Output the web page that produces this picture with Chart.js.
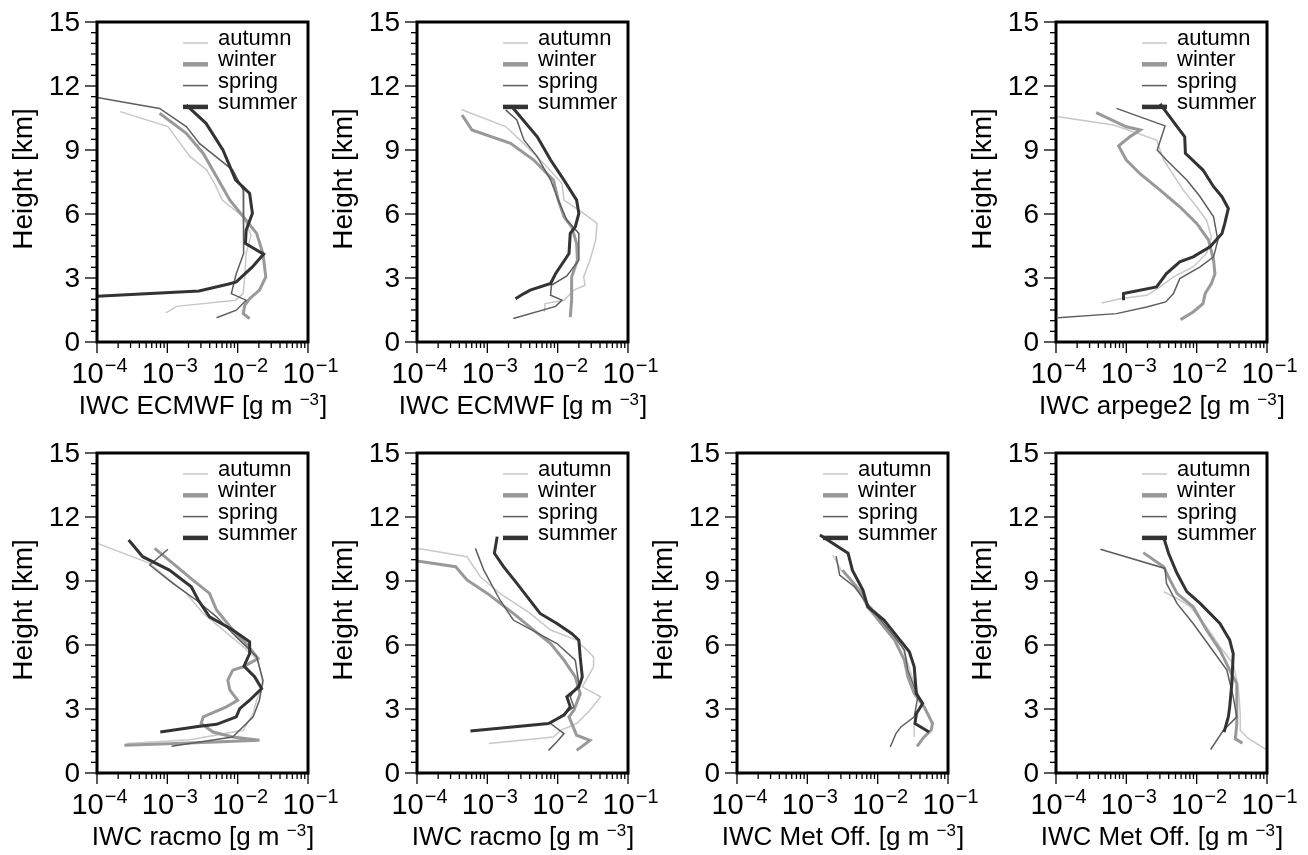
<!DOCTYPE html>
<html>
<head>
<meta charset="utf-8">
<script src="https://cdn.jsdelivr.net/npm/chart.js@4.4.0/dist/chart.umd.min.js"></script>
<style>
  html, body { margin: 0; padding: 0; background: #fff; }
  #wrap { position: relative; width: 1308px; height: 855px; overflow: hidden; }
  #wrap canvas { position: absolute; }
</style>
</head>
<body>
<div id="wrap"></div>
<script>
// axis setup
const seasons = ["autumn", "winter", "spring", "summer"];
const yTicks = [0, 3, 6, 9, 12, 15];
const xTickExps = [-4, -3, -2, -1];
const xMin = 1e-4, xMax = 1e-1;
const yMin = 0, yMax = 15;
const panelTitles = ["IWC ECMWF", "IWC ECMWF", "IWC arpege2", "IWC racmo", "IWC racmo", "IWC Met Off.", "IWC Met Off."];

// profiles: [IWC g m-3, height km]
const ecmwfA_autumn = [[2.14e-4,10.8],[1.02e-3,10.1],[2.09e-3,8.7],[3.63e-3,8.06],[4.79e-3,7.36],[6.03e-3,6.65],[1.2e-2,5.87],[1.55e-2,5.0],[1.32e-2,4.15],[1.26e-2,3.05],[1.2e-2,2.27],[9.33e-3,1.96],[1.35e-3,1.67],[9.55e-4,1.36]];
const ecmwfA_winter = [[7.76e-4,10.72],[1.86e-3,9.78],[3.24e-3,8.84],[5.01e-3,7.75],[7.76e-3,6.65],[1.32e-2,5.71],[1.86e-2,5.09],[2.29e-2,4.15],[2.51e-2,3.05],[2.04e-2,2.43],[1.48e-2,2.03],[1.26e-2,1.72],[1.2e-2,1.33],[1.48e-2,1.1]];
const ecmwfA_spring = [[1.0e-4,11.46],[7.76e-4,10.95],[1.86e-3,10.1],[2.88e-3,9.3],[8.51e-3,8.06],[1.2e-2,7.12],[1.2e-2,5.87],[1.23e-2,4.15],[9.55e-3,3.2],[8.13e-3,2.27],[1.32e-2,1.96],[9.55e-3,1.49],[5.01e-3,1.14]];
const ecmwfA_summer = [[1.86e-3,11.1],[3.55e-3,10.25],[6.17e-3,9.0],[9.33e-3,7.6],[1.48e-2,6.96],[1.62e-2,6.03],[1.32e-2,5.24],[1.29e-2,4.62],[2.34e-2,4.12],[1.62e-2,3.52],[9.55e-3,2.82],[7.24e-3,2.71],[2.82e-3,2.39],[1.0e-4,2.14]];

const ecmwfB_autumn = [[4.27e-4,10.9],[1.82e-3,10.1],[3.31e-3,9.3],[7.08e-3,8.2],[1.15e-2,7.43],[1.23e-2,6.65],[2.34e-2,6.03],[3.63e-2,5.56],[3.47e-2,4.77],[2.88e-2,3.83],[2.34e-2,3.05],[2.45e-2,2.66],[1.7e-2,2.43],[1.23e-2,1.96],[6.61e-3,1.8],[6.46e-3,1.41]];
const ecmwfB_winter = [[4.37e-4,10.64],[6.03e-4,9.94],[2.14e-3,9.31],[4.57e-3,8.53],[8.71e-3,7.59],[1.02e-2,6.65],[1.23e-2,5.87],[1.58e-2,5.4],[1.86e-2,4.62],[1.91e-2,3.83],[1.58e-2,3.05],[1.58e-2,1.96],[1.51e-2,1.17]];
const ecmwfB_spring = [[1.82e-3,10.88],[2.63e-3,10.41],[3.31e-3,9.47],[5.13e-3,8.69],[7.94e-3,7.59],[1.02e-2,6.65],[1.35e-2,5.71],[2.0e-2,5.09],[2.0e-2,3.83],[1.35e-2,3.1],[8.13e-3,2.66],[7.94e-3,2.19],[1.15e-2,1.96],[9.33e-3,1.67],[2.34e-3,1.1]];
const ecmwfB_summer = [[2.24e-3,11.03],[5.13e-3,9.62],[7.94e-3,8.53],[1.23e-2,7.59],[1.86e-2,6.65],[2.0e-2,6.03],[1.78e-2,5.4],[1.51e-2,5.09],[1.45e-2,4.15],[9.33e-3,3.2],[7.94e-3,2.74],[4.07e-3,2.43],[3.31e-3,2.27],[2.51e-3,2.03]];

const arpege_autumn = [[1.07e-4,10.56],[6.61e-4,10.17],[2.69e-3,9.47],[3.39e-3,8.53],[6.46e-3,7.12],[1.0e-2,6.34],[1.38e-2,5.71],[1.62e-2,4.93],[1.38e-2,4.15],[8.91e-3,3.52],[4.68e-3,3.05],[3.02e-3,2.58],[1.95e-3,2.19],[8.13e-4,2.03],[4.47e-4,1.83]];
const arpege_winter = [[3.72e-4,10.75],[1.0e-3,10.09],[1.58e-3,9.94],[1.12e-3,9.62],[7.76e-4,9.19],[1.0e-3,8.53],[1.55e-3,7.9],[3.02e-3,7.12],[5.75e-3,6.34],[1.0e-2,5.56],[1.48e-2,4.77],[1.74e-2,3.83],[1.82e-2,3.2],[1.62e-2,2.74],[1.32e-2,2.27],[1.23e-2,1.8],[8.91e-3,1.41],[5.89e-3,1.05]];
const arpege_spring = [[7.24e-4,10.95],[3.55e-3,10.13],[2.75e-3,9.0],[3.72e-3,8.53],[7.24e-3,7.59],[1.12e-2,6.81],[1.74e-2,5.87],[2.0e-2,4.77],[1.74e-2,3.99],[1.12e-2,3.52],[5.75e-3,2.97],[4.68e-3,2.27],[3.63e-3,1.88],[1.95e-3,1.64],[7.24e-4,1.33],[1.07e-4,1.14]];
const arpege_summer = [[3.02e-3,11.16],[6.76e-3,9.62],[6.92e-3,8.84],[1.23e-2,8.06],[1.74e-2,7.28],[2.29e-2,6.81],[2.82e-2,6.26],[2.51e-2,5.56],[2.29e-2,5.09],[1.55e-2,4.46],[8.91e-3,3.99],[5.75e-3,3.76],[3.72e-3,3.21],[2.69e-3,2.58],[9.12e-4,2.27],[9.12e-4,1.96]];

const racmoA_autumn = [[1.0e-4,10.77],[5.62e-4,9.83],[1.07e-3,9.05],[1.86e-3,8.42],[3.24e-3,7.48],[1.2e-2,5.92],[1.95e-2,5.29],[2.29e-2,4.19],[1.86e-2,3.41],[1.66e-2,2.79],[1.2e-2,2.0],[2.09e-3,1.56],[2.63e-4,1.38]];
const racmoA_winter = [[6.61e-4,10.53],[1.2e-3,9.83],[2.29e-3,9.05],[3.98e-3,8.42],[5.01e-3,7.64],[8.51e-3,6.7],[1.32e-2,6.07],[1.95e-2,5.37],[1.2e-2,4.98],[8.51e-3,4.82],[7.24e-3,4.35],[7.76e-3,3.88],[1.0e-2,3.41],[6.92e-3,3.1],[3.24e-3,2.63],[3.02e-3,2.32],[4.47e-3,1.92],[8.51e-3,1.69],[2.04e-2,1.53],[2.09e-3,1.41],[2.45e-4,1.3]];
const racmoA_spring = [[1.02e-3,10.49],[5.62e-4,9.75],[1.2e-3,8.89],[2.57e-3,8.11],[5.01e-3,7.32],[9.55e-3,6.38],[1.86e-2,5.45],[2.29e-2,4.35],[2.04e-2,3.41],[1.66e-2,2.63],[8.51e-3,1.69],[1.15e-3,1.25]];
const racmoA_summer = [[2.82e-4,10.92],[4.47e-4,10.14],[1.07e-3,9.51],[2.19e-3,8.73],[2.75e-3,8.11],[3.98e-3,7.32],[8.51e-3,6.7],[1.48e-2,6.15],[1.48e-2,5.6],[1.23e-2,5.01],[1.74e-2,4.51],[2.19e-2,3.96],[1.48e-2,3.41],[1.07e-2,3.02],[9.55e-3,2.63],[5.01e-3,2.28],[2.88e-3,2.19],[7.94e-4,1.92]];

const racmoB_autumn = [[1.0e-4,10.53],[5.13e-4,10.14],[7.94e-4,9.2],[1.51e-3,8.42],[4.07e-3,7.48],[7.94e-3,6.7],[1.86e-2,6.23],[3.24e-2,5.45],[3.24e-2,4.98],[2.24e-2,4.04],[4.07e-2,3.57],[2.88e-2,2.94],[1.86e-2,2.32],[1.1e-2,2.0],[8.71e-3,1.69],[1.05e-3,1.38]];
const racmoB_winter = [[1.0e-4,9.94],[3.55e-4,9.67],[5.13e-4,9.05],[1.0e-3,8.42],[2.34e-3,7.48],[4.57e-3,6.7],[7.94e-3,6.07],[1.23e-2,5.29],[1.78e-2,4.51],[2.09e-2,3.72],[1.7e-2,2.94],[1.45e-2,2.63],[1.86e-2,1.77],[2.88e-2,1.53],[1.86e-2,1.06]];
const racmoB_spring = [[6.76e-4,10.53],[8.91e-4,9.51],[1.51e-3,8.11],[2.34e-3,7.17],[9.77e-3,6.07],[1.78e-2,5.29],[2.0e-2,4.19],[1.51e-2,3.57],[1.7e-2,3.1],[7.94e-3,2.32],[1.23e-2,1.85],[9.77e-3,1.46],[7.41e-3,1.06]];
const racmoB_summer = [[1.38e-3,11.08],[1.26e-3,10.3],[1.7e-3,9.67],[2.63e-3,8.89],[5.62e-3,7.48],[9.77e-3,7.01],[1.58e-2,6.54],[2.0e-2,6.23],[2.09e-2,5.45],[2.24e-2,4.51],[2.0e-2,4.04],[1.35e-2,3.57],[1.51e-2,3.1],[1.23e-2,2.71],[7.41e-3,2.32],[5.75e-4,1.97]];

const metoffA_autumn = [[2.29e-3,10.22],[3.02e-3,9.51],[5.5e-3,8.58],[7.24e-3,7.95],[1.23e-2,7.17],[2.14e-2,6.07],[2.69e-2,5.13],[3.31e-2,4.19],[4.17e-2,3.26],[3.31e-2,2.32],[3.31e-2,1.69]];
const metoffA_winter = [[3.16e-3,9.51],[5.5e-3,8.58],[7.24e-3,7.79],[1.74e-2,6.23],[2.4e-2,5.29],[2.69e-2,4.51],[3.31e-2,3.72],[4.57e-2,3.1],[6.03e-2,2.32],[5.75e-2,2.0],[4.57e-2,1.69],[3.63e-2,1.25]];
const metoffA_spring = [[2.57e-3,10.17],[2.88e-3,9.28],[4.68e-3,8.73],[6.46e-3,8.11],[1.74e-2,6.38],[2.4e-2,5.76],[2.69e-2,4.82],[3.72e-2,3.57],[3.31e-2,2.63],[2.14e-2,2.16],[1.82e-2,1.85],[1.51e-2,1.22]];
const metoffA_summer = [[1.51e-3,11.16],[3.8e-3,10.3],[4.37e-3,9.51],[6.17e-3,8.58],[7.24e-3,7.79],[1.23e-2,7.17],[1.91e-2,6.38],[2.82e-2,5.68],[3.31e-2,4.98],[3.55e-2,3.72],[4.37e-2,3.26],[3.55e-2,2.79],[3.39e-2,2.32],[5.37e-2,1.92]];

const metoffB_autumn = [[3.39e-3,8.5],[5.75e-3,8.11],[8.13e-3,7.79],[1.38e-2,6.85],[2.14e-2,5.92],[3.31e-2,5.13],[3.89e-2,4.04],[4.17e-2,2.79],[4.17e-2,2.0],[5.37e-2,1.63],[1.0e-1,1.07]];
const metoffB_winter = [[1.74e-3,10.33],[3.39e-3,9.67],[4.17e-3,9.05],[5.25e-3,8.42],[8.91e-3,7.79],[1.38e-2,6.7],[2.14e-2,5.76],[2.95e-2,4.82],[3.72e-2,4.19],[3.72e-2,3.26],[3.72e-2,2.3],[3.55e-2,1.6],[4.47e-2,1.4]];
const metoffB_spring = [[4.27e-4,10.49],[3.55e-3,9.59],[3.72e-3,8.89],[5.25e-3,7.95],[8.91e-3,7.01],[1.55e-2,5.92],[2.69e-2,4.82],[3.31e-2,3.57],[3.72e-2,2.63],[2.4e-2,2.0],[1.58e-2,1.1]];
const metoffB_summer = [[3.39e-3,11.05],[3.98e-3,10.3],[5.25e-3,9.36],[7.24e-3,8.5],[1.12e-2,7.95],[2.14e-2,7.01],[2.95e-2,6.23],[3.31e-2,5.6],[3.16e-2,4.19],[2.95e-2,3.1],[2.82e-2,2.63],[2.45e-2,1.92]];

const panelSeries = [
  [ecmwfA_autumn, ecmwfA_winter, ecmwfA_spring, ecmwfA_summer],
  [ecmwfB_autumn, ecmwfB_winter, ecmwfB_spring, ecmwfB_summer],
  [arpege_autumn, arpege_winter, arpege_spring, arpege_summer],
  [racmoA_autumn, racmoA_winter, racmoA_spring, racmoA_summer],
  [racmoB_autumn, racmoB_winter, racmoB_spring, racmoB_summer],
  [metoffA_autumn, metoffA_winter, metoffA_spring, metoffA_summer],
  [metoffB_autumn, metoffB_winter, metoffB_spring, metoffB_summer]
];

// look
const seasonColor = ["#c8c8c8", "#999999", "#5e5e5e", "#333333"];
const seasonWidth = [1.5, 3, 1.5, 3];
const legendWidth = [1.5, 4.5, 1.5, 4.5];
const slots = [[0, 0], [320, 0], [959, 0], [0, 431], [320, 431], [640, 431], [959, 431]];
const FONT = "'Liberation Sans', Arial, sans-serif";

function seg(ctx, x1, y1, x2, y2) {
  ctx.beginPath();
  ctx.moveTo(x1, y1);
  ctx.lineTo(x2, y2);
  ctx.stroke();
}

const framePlugin = {
  id: "frame",
  afterDraw(chart) {
    const ctx = chart.ctx;
    const a = chart.chartArea;
    const xs = chart.scales.x, ys = chart.scales.y;
    ctx.save();
    ctx.strokeStyle = "#000";
    ctx.fillStyle = "#000";

    // y ticks (major every 3 km, minor every 0.5 km)
    ctx.lineWidth = 1.3;
    for (let v = yMin; v <= yMax; v += 0.5) {
      const py = ys.getPixelForValue(v);
      const len = (v % 3 === 0) ? 12 : 6;
      seg(ctx, a.left - len, py, a.left, py);
    }
    // x ticks (decades + minor 2..9)
    for (const e of xTickExps) {
      for (let m = 1; m <= 9; m++) {
        const v = m * Math.pow(10, e);
        if (v > xMax * 1.001) break;
        const px = xs.getPixelForValue(v);
        seg(ctx, px, a.bottom, px, a.bottom + (m === 1 ? 11 : 6));
      }
    }
    // frame
    ctx.lineWidth = 3;
    ctx.strokeRect(a.left, a.top, a.right - a.left, a.bottom - a.top);

    // y tick labels
    ctx.font = "28px " + FONT;
    ctx.textAlign = "right";
    ctx.textBaseline = "middle";
    yTicks.forEach(v => ctx.fillText(String(v), a.left - 17, ys.getPixelForValue(v) + 1));

    // x tick labels 10^n
    ctx.textAlign = "left";
    ctx.textBaseline = "alphabetic";
    xTickExps.forEach(e => {
      const px = xs.getPixelForValue(Math.pow(10, e));
      ctx.font = "29px " + FONT;
      const wBase = ctx.measureText("10").width;
      ctx.font = "20px " + FONT;
      const sup = "\u2212" + Math.abs(e);
      const wSup = ctx.measureText(sup).width;
      const x0 = px - (wBase + wSup) / 2 + 2;
      ctx.font = "29px " + FONT;
      ctx.fillText("10", x0, a.bottom + 41);
      ctx.font = "20px " + FONT;
      ctx.fillText(sup, x0 + wBase + 1, a.bottom + 30);
    });

    // x title with superscript unit
    const title = chart.options.plugins.frame.title + " [g m ";
    ctx.font = "26px " + FONT;
    const w1 = ctx.measureText(title).width;
    ctx.font = "17px " + FONT;
    const w2 = ctx.measureText("\u22123").width;
    ctx.font = "26px " + FONT;
    const w3 = ctx.measureText("]").width;
    let tx = (a.left + a.right) / 2 - (w1 + w2 + w3) / 2;
    ctx.fillText(title, tx, a.bottom + 72);
    ctx.font = "17px " + FONT;
    ctx.fillText("\u22123", tx + w1, a.bottom + 63);
    ctx.font = "26px " + FONT;
    ctx.fillText("]", tx + w1 + w2 + 1, a.bottom + 72);

    // y title
    ctx.save();
    ctx.translate(32, (a.top + a.bottom) / 2 - 3);
    ctx.rotate(-Math.PI / 2);
    ctx.font = "28px " + FONT;
    ctx.textAlign = "center";
    ctx.fillText("Height [km]", 0, 0);
    ctx.restore();

    // legend
    ctx.font = "22px " + FONT;
    ctx.textAlign = "left";
    seasons.forEach((s, i) => {
      const ly = a.top + 21 + i * 21.3;
      ctx.strokeStyle = seasonColor[i];
      ctx.lineWidth = legendWidth[i];
      seg(ctx, a.left + 86, ly, a.left + 111, ly);
      ctx.fillStyle = "#000";
      ctx.fillText(s, a.left + 121, ly + 2);
    });
    ctx.restore();
  }
};

const wrap = document.getElementById("wrap");
panelSeries.forEach((series, p) => {
  const cv = document.createElement("canvas");
  cv.width = 340;
  cv.height = 430;
  cv.style.left = slots[p][0] + "px";
  cv.style.top = slots[p][1] + "px";
  wrap.appendChild(cv);

  new Chart(cv, {
    type: "scatter",
    data: {
      datasets: series.map((pts, i) => ({
        label: seasons[i],
        data: pts.map(d => ({ x: d[0], y: d[1] })),
        showLine: true,
        borderColor: seasonColor[i],
        borderWidth: seasonWidth[i],
        pointRadius: 0,
        tension: 0,
        order: 4 - i
      }))
    },
    options: {
      responsive: false,
      animation: false,
      events: [],
      layout: { padding: { left: 97, right: 32, top: 22, bottom: 88 } },
      scales: {
        x: { type: "logarithmic", min: xMin, max: xMax, display: false },
        y: { type: "linear", min: yMin, max: yMax, display: false }
      },
      plugins: {
        legend: { display: false },
        tooltip: { enabled: false },
        frame: { title: panelTitles[p] }
      }
    },
    plugins: [framePlugin]
  });
});
</script>
</body>
</html>
